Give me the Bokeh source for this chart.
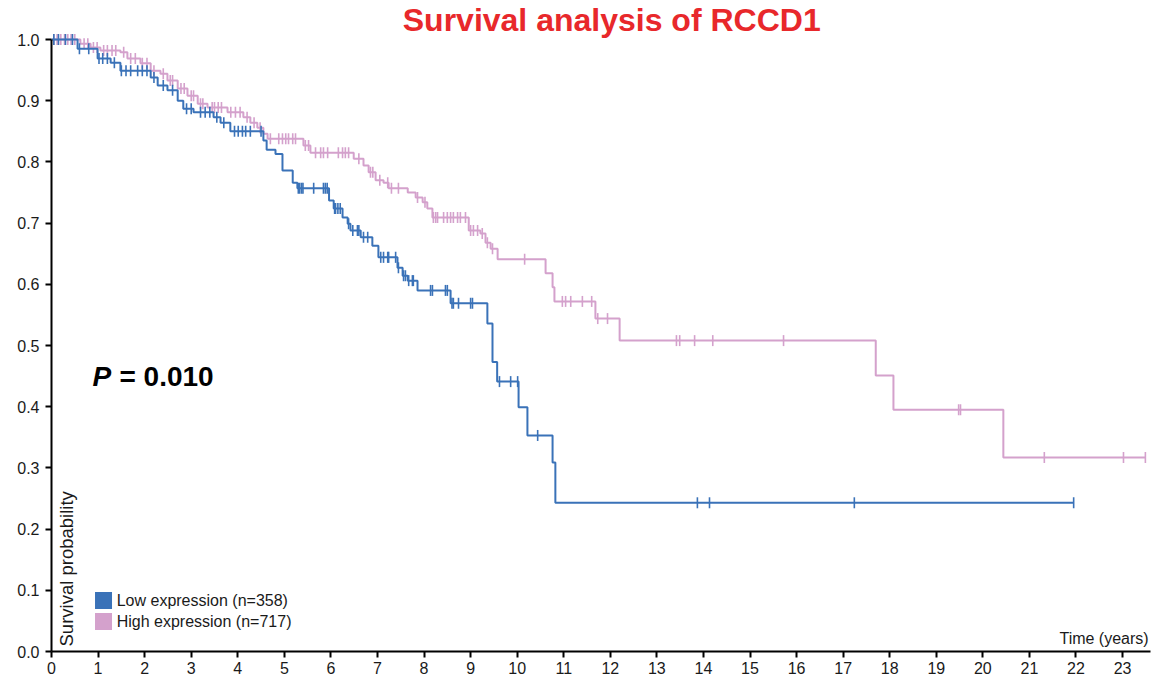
import numpy as np
from bokeh.plotting import figure
from bokeh.models import Label, FixedTicker, Range1d, PrintfTickFormatter
from bokeh.embed import file_html
from bokeh.resources import INLINE

# ---------------- data ----------------
title_text = "Survival analysis of RCCD1"
low_label = "Low expression (n=358)"
high_label = "High expression (n=717)"
p_value_text = "= 0.010"

x_ticks = list(range(0, 24))
y_ticks = [0.0, 0.1, 0.2, 0.3, 0.4, 0.5, 0.6, 0.7, 0.8, 0.9, 1.0]

# Low expression: event times (years) and survival after each step
low_times = [0, 0.56, 0.99, 1.27, 1.48, 2.13, 2.28, 2.49, 2.71, 2.83, 3.05, 3.48, 3.63, 3.84,
             4.55, 4.62, 4.81, 4.96, 5.18, 5.28, 5.96, 6.06, 6.25, 6.36, 6.42, 6.64, 6.89,
             7.02, 7.43, 7.54, 7.65, 7.86, 8.57, 9.36, 9.47, 9.57, 10.03, 10.22, 10.76, 10.82]
low_surv = [1.0, 0.985, 0.969, 0.962, 0.949, 0.938, 0.925, 0.917, 0.900, 0.887, 0.881, 0.873, 0.864, 0.850,
            0.835, 0.820, 0.813, 0.786, 0.766, 0.757, 0.737, 0.724, 0.709, 0.699, 0.688, 0.677, 0.663,
            0.644, 0.627, 0.614, 0.606, 0.590, 0.569, 0.536, 0.473, 0.441, 0.399, 0.353, 0.309, 0.243]
low_end = 21.95
low_censor = [0.05, 0.15, 0.3, 0.45, 0.6, 0.8, 1.02, 1.1, 1.2, 1.35, 1.5, 1.6, 1.7, 1.85, 1.95, 2.05,
              2.2, 2.4, 2.6, 2.9, 3.0, 3.2, 3.3, 3.4, 3.55, 3.7, 3.93, 4.01, 4.1, 4.17, 4.27, 4.5,
              5.3, 5.33, 5.37, 5.4, 5.63, 5.84, 5.88, 5.92, 6.08, 6.1, 6.15, 6.2, 6.38, 6.47, 6.57,
              6.6, 6.7, 6.79, 7.07, 7.13, 7.22, 7.24, 7.39, 7.45, 7.56, 7.6, 7.67, 7.75, 7.77, 8.14,
              8.18, 8.46, 8.5, 8.6, 8.63, 8.74, 9.0, 9.04, 9.62, 9.86, 10.01, 10.44, 13.87, 14.13,
              17.24, 21.95]

# High expression
high_times = [0, 0.62, 0.84, 1.05, 1.48, 1.63, 1.91, 2.13, 2.34, 2.49, 2.71, 2.92, 3.14, 3.35, 3.78,
              4.12, 4.27, 4.42, 4.55, 4.64, 5.41, 5.56, 6.49, 6.70, 6.81, 6.96, 7.13, 7.24, 7.65,
              7.82, 7.97, 8.07, 8.18, 8.96, 9.21, 9.32, 9.43, 9.58, 10.61, 10.76, 10.80, 11.68,
              12.20, 17.70, 18.08, 20.44]
high_surv = [1.0, 0.993, 0.987, 0.982, 0.979, 0.969, 0.961, 0.949, 0.944, 0.933, 0.920, 0.908, 0.895,
             0.889, 0.881, 0.873, 0.864, 0.856, 0.846, 0.838, 0.827, 0.815, 0.805, 0.794, 0.783,
             0.770, 0.766, 0.757, 0.750, 0.742, 0.734, 0.724, 0.709, 0.688, 0.683, 0.668, 0.658,
             0.641, 0.618, 0.595, 0.572, 0.544, 0.508, 0.451, 0.395, 0.317]
high_end = 23.49
high_censor = [0.05, 0.12, 0.2, 0.28, 0.35, 0.42, 0.5, 0.7, 0.78, 0.9, 0.98, 1.12, 1.2, 1.3, 1.38,
               1.55, 1.7, 1.8, 1.95, 2.05, 2.2, 2.4, 2.55, 2.6, 2.78, 2.85, 3.0, 3.05, 3.2, 3.25,
               3.45, 3.5, 3.58, 3.65, 3.85, 3.95, 4.05, 4.2, 4.35, 4.48, 4.7, 4.88, 4.96, 5.03,
               5.09, 5.18, 5.24, 5.45, 5.52, 5.67, 5.78, 5.84, 5.93, 6.16, 6.25, 6.31, 6.38, 6.6,
               6.85, 6.9, 7.05, 7.22, 7.3, 7.45, 7.86, 8.02, 8.2, 8.25, 8.29, 8.42, 8.5, 8.57, 8.63,
               8.72, 8.78, 8.89, 9.0, 9.06, 9.15, 9.25, 9.36, 9.47, 10.16, 10.97, 11.04, 11.15,
               11.4, 11.6, 11.73, 11.94, 13.42, 13.49, 13.81, 14.2, 15.72, 19.48, 19.52, 21.32,
               23.02, 23.49]

LOW_COLOR = "#3a72b8"
HIGH_COLOR = "#d4a1cc"
TEXT_COLOR = "#1a1a1a"


def step_xy(times, surv, end):
    xs = list(times) + [end]
    ys = list(surv) + [surv[-1]]
    return xs, ys


def surv_at(times, surv, t):
    idx = np.searchsorted(np.asarray(times), np.asarray(t), side="right") - 1
    return np.asarray(surv)[idx]


p = figure(width=1157, height=684, output_backend="svg", toolbar_location=None, title=None,
           x_range=Range1d(0, 23.6), y_range=Range1d(0, 651 / 612),
           min_border_left=51, min_border_right=7, min_border_top=0, min_border_bottom=33)
p.outline_line_color = None
p.xgrid.visible = False
p.ygrid.visible = False
p.background_fill_color = "white"
p.border_fill_color = "white"

for ax in (p.xaxis[0], p.yaxis[0]):
    ax.axis_line_color = "black"
    ax.axis_line_width = 2
    ax.major_tick_line_color = "black"
    ax.major_tick_line_width = 2
    ax.major_tick_out = 6
    ax.major_tick_in = 0
    ax.minor_tick_line_color = None
    ax.major_label_text_font = "Liberation Sans"
    ax.major_label_text_font_size = "16px"
    ax.major_label_text_color = TEXT_COLOR

p.xaxis[0].ticker = FixedTicker(ticks=x_ticks)
p.xaxis[0].major_label_standoff = 4
p.yaxis[0].ticker = FixedTicker(ticks=y_ticks)
p.yaxis[0].formatter = PrintfTickFormatter(format="%.1f")
p.yaxis[0].major_label_standoff = 6
p.yaxis[0].bounds = (0, 1)

# curves
for times, surv, end, cens, color in ((high_times, high_surv, high_end, high_censor, HIGH_COLOR),
                                       (low_times, low_surv, low_end, low_censor, LOW_COLOR)):
    xs, ys = step_xy(times, surv, end)
    p.step(xs, ys, mode="after", line_color=color, line_width=2)
    cy = surv_at(times, surv, cens)
    p.scatter(x=cens, y=cy, marker="dash", angle=np.pi / 2, size=11,
              line_color=color, line_width=1.6)

# legend
p.rect(x=[1.117, 1.117], y=[0.0833, 0.049], width=17, height=17,
       width_units="screen", height_units="screen",
       fill_color=[LOW_COLOR, HIGH_COLOR], line_color=None)
for yy, txt in ((0.0833, low_label), (0.049, high_label)):
    p.add_layout(Label(x=1.40, y=yy, text=txt, text_font="Liberation Sans",
                       text_font_size="16px", text_baseline="middle", text_align="left",
                       text_color=TEXT_COLOR))

# title
p.add_layout(Label(x=12.03, y=1.032, text=title_text, text_font="Liberation Sans",
                   text_font_size="32px", text_font_style="bold", text_color="#e8282b",
                   text_align="center", text_baseline="alphabetic"))

# P value
p.add_layout(Label(x=0.88, y=0.449, text="P", text_font="Liberation Sans",
                   text_font_size="28px", text_font_style="bold italic", text_color="black",
                   text_align="left", text_baseline="alphabetic"))
p.add_layout(Label(x=1.46, y=0.449, text=p_value_text, text_font="Liberation Sans",
                   text_font_size="28px", text_font_style="bold", text_color="black",
                   text_align="left", text_baseline="alphabetic"))

# axis titles inside plot
p.add_layout(Label(x=23.56, y=0.007, text="Time (years)", text_font="Liberation Sans",
                   text_font_size="16px", text_color=TEXT_COLOR,
                   text_align="right", text_baseline="bottom"))
p.add_layout(Label(x=0.086, y=0.0082, text="Survival probability", text_font="Liberation Sans",
                   text_font_size="18.5px", text_color=TEXT_COLOR, angle=np.pi / 2,
                   text_align="left", text_baseline="top"))

open("out.html", "w").write(file_html(p, INLINE))
